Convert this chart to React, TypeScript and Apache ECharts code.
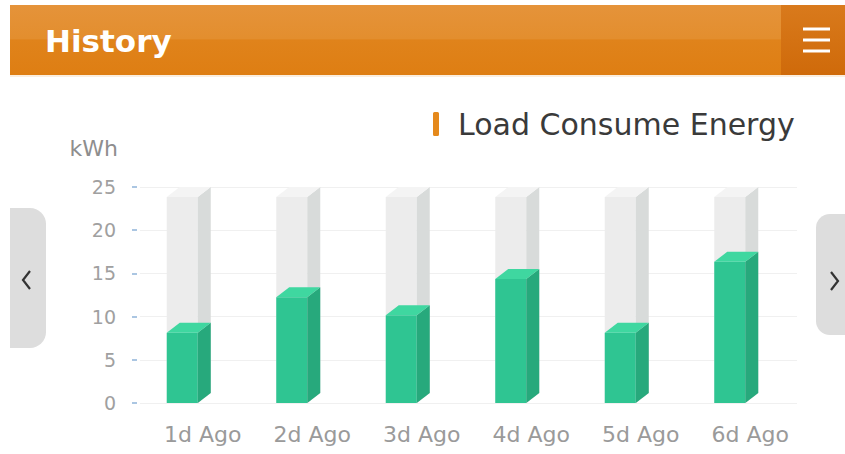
import React, { useEffect, useRef } from "react";
import * as echarts from "echarts";

// Daily energy history
const categories = ["1d Ago", "2d Ago", "3d Ago", "4d Ago", "5d Ago", "6d Ago"];
const energyValues = [9.3, 13.4, 11.3, 15.5, 9.3, 17.5];
const capacityValues = [25, 25, 25, 25, 25, 25];
const yTicks = [0, 5, 10, 15, 20, 25];
const seriesName = "Load Consume Energy";
const unitLabel = "kWh";
const pageTitle = "History";

const FRONT_LEFT = -28;
const FRONT_RIGHT = 3;
const SIDE_RIGHT = 16;
const DEPTH = 10;

function cubeRenderer(front: string, side: string, top: string) {
  return (params: any, api: any) => {
    const idx = api.value(0);
    const base = api.coord([idx, 0]);
    const peak = api.coord([idx, api.value(1)]);
    const cx = base[0];
    const bottom = base[1];
    const topY = peak[1];
    const frontTop = topY + DEPTH;
    const fl = cx + FRONT_LEFT;
    const fr = cx + FRONT_RIGHT;
    const sr = cx + SIDE_RIGHT;
    return {
      type: "group",
      children: [
        {
          type: "polygon",
          shape: { points: [[fl, frontTop], [fr, frontTop], [fr, bottom], [fl, bottom]] },
          style: { fill: front },
        },
        {
          type: "polygon",
          shape: { points: [[fr, frontTop], [sr, topY], [sr, bottom - DEPTH], [fr, bottom]] },
          style: { fill: side },
        },
        {
          type: "polygon",
          shape: { points: [[fl, frontTop], [fl + (SIDE_RIGHT - FRONT_RIGHT), topY], [sr, topY], [fr, frontTop]] },
          style: { fill: top },
        },
      ],
    };
  };
}

export default function App() {
  const ref = useRef<HTMLDivElement>(null);

  useEffect(() => {
    document.body.style.margin = "0";
    const chart = echarts.init(ref.current!, undefined, { renderer: "svg" });
    const font = "'DejaVu Sans', 'Liberation Sans', sans-serif";
    chart.setOption({
      animation: false,
      backgroundColor: "#ffffff",
      textStyle: { fontFamily: font },
      legend: {
        data: [seriesName],
        left: 428,
        top: 104,
        icon: "roundRect",
        itemWidth: 6,
        itemHeight: 24,
        selectedMode: false,
        textStyle: { fontSize: 30, color: "#3a3a3a", padding: [0, 0, 0, 14], fontFamily: font },
      },
      grid: { left: 140, right: 48, top: 187, bottom: 51 },
      xAxis: {
        type: "category",
        data: categories,
        axisLine: { show: false },
        axisTick: { show: false },
        axisLabel: { fontSize: 22, color: "#9a9a9a", margin: 20, padding: [0, 0, 0, 16] },
      },
      yAxis: {
        type: "value",
        min: yTicks[0],
        max: yTicks[yTicks.length - 1],
        interval: 5,
        offset: 3,
        axisLine: { show: false },
        axisTick: { show: true, length: 5, lineStyle: { color: "#8fb3d9", width: 1.5 } },
        axisLabel: { fontSize: 19, color: "#a0a0a0", margin: 21 },
        splitLine: { lineStyle: { color: "#f0f0f0", width: 1 } },
      },
      series: [
        {
          name: "capacity",
          type: "custom",
          renderItem: cubeRenderer("#ececec", "#d8dbda", "#f4f4f4"),
          data: capacityValues.map((v, i) => [i, v]),
          z: 1,
        },
        {
          name: seriesName,
          type: "custom",
          color: "#e5891c",
          renderItem: cubeRenderer("#2fc592", "#27a97c", "#3fd7a0"),
          data: energyValues.map((v, i) => [i, v]),
          z: 2,
        },
      ],
      graphic: [
        {
          type: "rect",
          shape: { x: 10, y: 5, width: 835, height: 70 },
          style: {
            fill: new echarts.graphic.LinearGradient(0, 0, 0, 1, [
              { offset: 0, color: "#e5933a" },
              { offset: 0.48, color: "#e38e2e" },
              { offset: 0.5, color: "#e0831b" },
              { offset: 1, color: "#de7e13" },
            ]),
          },
          z: 10,
        },
        {
          type: "rect",
          shape: { x: 781, y: 5, width: 64, height: 70 },
          style: {
            fill: new echarts.graphic.LinearGradient(0, 0, 0, 1, [
              { offset: 0, color: "#d97a1c" },
              { offset: 1, color: "#cf6a0a" },
            ]),
          },
          z: 11,
        },
        {
          type: "rect",
          shape: { x: 10, y: 75, width: 835, height: 2 },
          style: { fill: "#fbeede" },
          z: 11,
        },
        {
          type: "text",
          x: 45,
          y: 41,
          style: {
            text: pageTitle,
            fill: "#ffffff",
            font: `bold 31px ${font}`,
            textVerticalAlign: "middle",
          },
          z: 12,
        },
        ...[29, 40, 51].map((y) => ({
          type: "rect",
          shape: { x: 803, y: y - 1.5, width: 27, height: 3 },
          style: { fill: "#ffffff" },
          z: 12,
        })),
        {
          type: "text",
          x: 118,
          y: 148,
          style: {
            text: unitLabel,
            fill: "#8e8e8e",
            font: `22px ${font}`,
            textAlign: "right",
            textVerticalAlign: "middle",
          },
          z: 12,
        },
        {
          type: "rect",
          shape: { x: 10, y: 208, width: 36, height: 140, r: [0, 16, 16, 0] },
          style: { fill: "#dddddd" },
          z: 12,
        },
        {
          type: "polyline",
          shape: { points: [[30, 271], [23, 280], [30, 289]] },
          style: { stroke: "#333333", lineWidth: 2.2, fill: "none" },
          z: 13,
        },
        {
          type: "rect",
          shape: { x: 816, y: 214, width: 29, height: 121, r: [14, 0, 0, 14] },
          style: { fill: "#dddddd" },
          z: 12,
        },
        {
          type: "polyline",
          shape: { points: [[831, 272], [838, 281], [831, 290]] },
          style: { stroke: "#333333", lineWidth: 2.2, fill: "none" },
          z: 13,
        },
      ],
    });
    return () => chart.dispose();
  }, []);

  return (
    <div
      ref={ref}
      style={{ position: "fixed", left: 0, top: 0, width: 845, height: 454 }}
    />
  );
}
